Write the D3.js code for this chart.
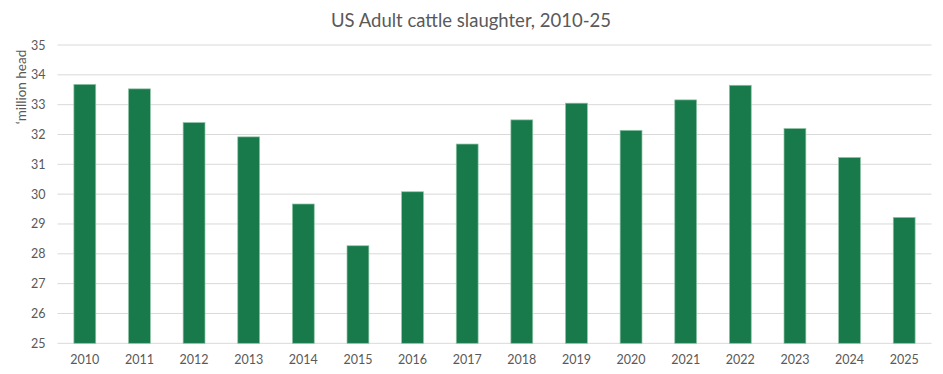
<!DOCTYPE html>
<html><head><meta charset="utf-8">
<script src="https://cdn.jsdelivr.net/npm/d3@7"></script>
<style>body{margin:0;background:#fff}svg{display:block}</style>
</head><body><svg id="c" width="943" height="374"></svg>
<script>
const years = ["2010","2011","2012","2013","2014","2015","2016","2017","2018","2019","2020","2021","2022","2023","2024","2025"];
const slaughter = [33.68,33.53,32.40,31.92,29.67,28.27,30.08,31.68,32.49,33.05,32.14,33.16,33.65,32.20,31.23,29.22];
const yTicks = [25,26,27,28,29,30,31,32,33,34,35];
const title = "US Adult cattle slaughter, 2010-25";
const yLabel = "\u2018million head";

const svg = d3.select("#c");
const font = "Lato, 'Open Sans', sans-serif";
const m = {l:57.5, r:11.5, t:45, b:30.7};
const W = 943, H = 374;
const x = d3.scaleBand().domain(years).range([m.l, W-m.r]).paddingInner(0.6).paddingOuter(0.3);
const y = d3.scaleLinear().domain([25,35]).range([H-m.b, m.t]);

// gridlines
svg.append("g").selectAll("line").data(yTicks).join("line")
  .attr("x1", m.l).attr("x2", W-m.r)
  .attr("y1", d=>y(d)).attr("y2", d=>y(d))
  .attr("stroke", "#d9d9d9").attr("stroke-width", 1);

// bars
svg.append("g").selectAll("rect").data(years).join("rect")
  .attr("x", d=>x(d)).attr("width", x.bandwidth())
  .attr("y", (d,i)=>y(slaughter[i])).attr("height", (d,i)=>y(25)-y(slaughter[i]))
  .attr("fill", "#187A4B").attr("stroke", "#8fc4a6").attr("stroke-width", 0.7);

// y axis
const ya = svg.append("g").attr("transform", `translate(${m.l-6},0)`)
  .call(d3.axisLeft(y).tickValues(yTicks).tickSize(0).tickPadding(6).tickFormat(d3.format("d")));
ya.select(".domain").remove();
ya.selectAll("text").attr("font-family", font).attr("font-size", 12.5).attr("fill", "#595959");

// x axis
const xa = svg.append("g").attr("transform", `translate(0,${H-m.b})`)
  .call(d3.axisBottom(x).tickSize(0).tickPadding(12));
xa.select(".domain").remove();
xa.selectAll("text").attr("font-family", font).attr("font-size", 12.5).attr("fill", "#595959");

// title
svg.append("text").attr("x", 471).attr("y", 27).attr("text-anchor", "middle")
  .attr("font-family", font).attr("font-size", 18.5).attr("fill", "#595959").text(title);

// y label
svg.append("text").attr("transform", "translate(26,87) rotate(-90)").attr("text-anchor", "middle")
  .attr("font-family", font).attr("font-size", 13.5).attr("fill", "#595959").text(yLabel);
</script></body></html>
